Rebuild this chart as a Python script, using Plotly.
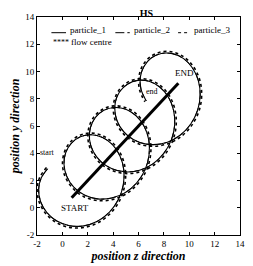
import plotly.graph_objects as go

# particle trajectories
particle_1_x = [-1.17,-1.67,-1.87,-1.72,-1.22,-0.43,0.57,1.68,2.76,3.71,4.41,4.8,4.84,4.54,3.95,3.16,2.27,1.42,0.72,0.26,0.13,0.35,0.9,1.74,2.77,3.88,4.95,5.86,6.51,6.83,6.81,6.45,5.81,5,4.11,3.27,2.61,2.21,2.14,2.42,3.04,3.91,4.97,6.08,7.13,7.99,8.59,8.85,8.76,8.35,7.67,6.83,5.95,5.13,4.51,4.17,4.17,4.51,5.18,6.1,7.17,8.28,9.3,10.12,10.66,10.86,10.71,10.24,9.53,8.67,7.79,7,6.43,6.14,6.2,6.61]
particle_1_y = [2.86,2.18,1.34,0.46,-0.36,-0.98,-1.32,-1.33,-0.99,-0.32,0.6,1.67,2.78,3.8,4.63,5.16,5.36,5.21,4.75,4.04,3.18,2.3,1.51,0.93,0.65,0.71,1.11,1.83,2.78,3.87,4.98,5.97,6.75,7.23,7.36,7.15,6.63,5.88,5.01,4.14,3.38,2.86,2.63,2.75,3.22,3.99,4.98,6.08,7.17,8.13,8.86,9.28,9.35,9.07,8.51,7.73,6.85,5.99,5.27,4.79,4.63,4.81,5.34,6.15,7.17,8.28,9.36,10.28,10.96,11.31,11.32,10.99,10.37,9.57,8.68,7.84]
particle_2_x = particle_1_x
particle_2_y = particle_1_y
particle_3_x = [-1.25,-1.78,-1.99,-1.83,-1.32,-0.5,0.54,1.68,2.81,3.79,4.52,4.92,4.96,4.64,4.02,3.19,2.26,1.37,0.63,0.16,0.01,0.23,0.81,1.67,2.74,3.89,5,5.94,6.62,6.95,6.92,6.54,5.88,5.02,4.09,3.22,2.52,2.1,2.02,2.31,2.94,3.86,4.95,6.1,7.19,8.09,8.7,8.97,8.87,8.44,7.73,6.85,5.92,5.07,4.42,4.06,4.05,4.4,5.09,6.04,7.16,8.31,9.37,10.22,10.78,10.98,10.82,10.32,9.57,8.68,7.75,6.93,6.33,6.03,6.08,6.5]
particle_3_y = [2.95,2.24,1.36,0.43,-0.42,-1.07,-1.44,-1.45,-1.1,-0.41,0.54,1.66,2.81,3.87,4.72,5.28,5.48,5.32,4.83,4.08,3.19,2.26,1.44,0.83,0.53,0.59,1,1.75,2.74,3.87,5.01,6.04,6.85,7.34,7.48,7.25,6.71,5.93,5.01,4.1,3.31,2.75,2.51,2.63,3.12,3.91,4.94,6.08,7.21,8.21,8.96,9.39,9.46,9.17,8.58,7.76,6.84,5.94,5.18,4.68,4.51,4.7,5.24,6.08,7.14,8.29,9.41,10.37,11.07,11.43,11.43,11.08,10.44,9.59,8.67,7.78]
flow_centre_x = [0.73, 9.14]
flow_centre_y = [0.73, 9.14]

tick_vals = [-2, 0, 2, 4, 6, 8, 10, 12, 14]
tick_text = ["-2", "0", "2", "4", "6", "8", "10", "12", "14"]

labels = ["start", "end", "START", "END"]
label_x = [-1.2, 7.08, 1.02, 9.6]
label_y = [4.05, 8.5, 0.0, 9.9]
label_size = [8, 8, 9, 9]

SERIF = "Liberation Serif, Times New Roman, serif"

fig = go.Figure()
fig.add_trace(go.Scatter(x=particle_3_x, y=particle_3_y, name="particle_3", mode="lines",
                         line=dict(color="black", width=1.6, dash="dot", shape="spline")))
fig.add_trace(go.Scatter(x=particle_2_x, y=particle_2_y, name="particle_2", mode="lines",
                         line=dict(color="black", width=1, dash="dashdot", shape="spline")))
fig.add_trace(go.Scatter(x=particle_1_x, y=particle_1_y, name="particle_1", mode="lines",
                         line=dict(color="black", width=1.1, shape="spline")))
fig.add_trace(go.Scatter(x=flow_centre_x, y=flow_centre_y, name="flow centre", mode="lines",
                         line=dict(color="black", width=3)))

for t, lx, ly, s in zip(labels, label_x, label_y, label_size):
    fig.add_annotation(x=lx, y=ly, text=t, showarrow=False, xref="x", yref="y",
                       font=dict(family=SERIF, size=s, color="black"))

# legend (drawn in paper space to match the original layout)
leg_samples = [(0.071, 0.143, 0.940, "solid"), (0.386, 0.457, 0.940, "dashdot"), (0.695, 0.743, 0.940, "dot")]
for x0, x1, yy, d in leg_samples:
    fig.add_shape(type="line", xref="paper", yref="paper", x0=x0, x1=x1, y0=yy - 0.012, y1=yy - 0.012,
                  line=dict(color="black", width=1, dash=d))
leg_text = [("particle_1", 0.155, 0.940, 9), ("particle_2", 0.470, 0.940, 9), ("particle_3", 0.763, 0.940, 9),
            ("****", 0.068, 0.885, 8), ("flow centre", 0.160, 0.885, 9)]
for t, lx, ly, s in leg_text:
    fig.add_annotation(x=lx, y=ly, text=t, showarrow=False, xref="paper", yref="paper",
                       xanchor="left", yanchor="middle",
                       font=dict(family=SERIF, size=s, color="black"))

# the page adds an 8px body margin, so the figure is sized to the visible window
fig.update_layout(
    width=245, height=258,
    margin=dict(l=29, r=13, t=9, b=31),
    showlegend=False,
    plot_bgcolor="white", paper_bgcolor="white",
    title=dict(text="<b>HS</b>", x=0.565, xanchor="center", y=0.979, yanchor="middle",
               font=dict(family=SERIF, size=10, color="black")),
)
axis_common = dict(range=[-2, 14], tickvals=tick_vals, ticktext=tick_text, showgrid=False, zeroline=False,
                   showline=True, linecolor="black", linewidth=1, mirror="ticks",
                   ticks="inside", ticklen=3, tickcolor="black", automargin=False,
                   ticklabeloverflow="allow",
                   tickfont=dict(family=SERIF, size=9, color="black"))
fig.update_xaxes(**axis_common,
                 title=dict(text="<b><i>position z direction</i></b>", standoff=1,
                            font=dict(family=SERIF, size=12, color="black")))
fig.update_yaxes(**axis_common,
                 title=dict(text="<b><i>position y direction</i></b>", standoff=3,
                            font=dict(family=SERIF, size=12, color="black")))

fig.write_html("out.html")
